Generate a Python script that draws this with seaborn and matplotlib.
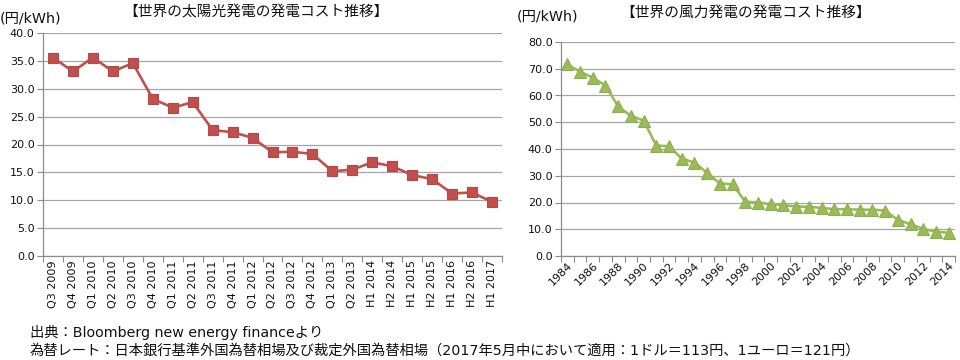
import matplotlib
matplotlib.use("Agg")
import matplotlib.pyplot as plt
import seaborn as sns
import pandas as pd

# ---- data ----
solar_periods = ["Q3 2009", "Q4 2009", "Q1 2010", "Q2 2010", "Q3 2010", "Q4 2010",
                 "Q1 2011", "Q2 2011", "Q3 2011", "Q4 2011", "Q1 2012", "Q2 2012",
                 "Q3 2012", "Q4 2012", "Q1 2013", "Q2 2013", "H1 2014", "H2 2014",
                 "H1 2015", "H2 2015", "H1 2016", "H2 2016", "H1 2017"]
solar_cost = [35.6, 33.1, 35.6, 33.1, 34.6, 28.2, 26.6, 27.6, 22.6, 22.2, 21.2, 18.6,
              18.7, 18.3, 15.2, 15.5, 16.8, 16.1, 14.5, 13.8, 11.2, 11.4, 9.7]

wind_years = [str(y) for y in range(1984, 2015)]
wind_cost = [71.6, 68.9, 66.7, 63.7, 55.9, 52.4, 50.6, 41.3, 41.0, 36.4, 34.9, 31.1,
             27.1, 26.8, 20.3, 20.0, 19.3, 19.0, 18.5, 18.4, 18.0, 17.5, 17.5, 17.3,
             17.3, 17.0, 13.5, 11.9, 10.1, 9.1, 8.7]
wind_label_years = wind_years[::2]

solar_yticks = [0, 5, 10, 15, 20, 25, 30, 35, 40]
wind_yticks = [0, 10, 20, 30, 40, 50, 60, 70, 80]

title_solar = "【世界の太陽光発電の発電コスト推移】"
title_wind = "【世界の風力発電の発電コスト推移】"
unit_label = "(円/kWh)"
note1 = "出典：Bloomberg new energy financeより"
note2 = "為替レート：日本銀行基準外国為替相場及び裁定外国為替相場（2017年5月中において適用：1ドル＝113円、1ユーロ＝121円）"

# ---- style ----
sns.set_theme(style="white")
FAM = ["DejaVu Sans", "Noto Sans CJK JP"]
plt.rcParams["font.family"] = FAM
plt.rcParams["axes.unicode_minus"] = False

RED = "#C0504D"
RED_EDGE = "#B54744"
GREEN = "#9BBB59"
GREEN_EDGE = "#8FAF4E"
GRID = "#A6A6A6"
SPINE = "#8C8C8C"
TXT = "#111111"
TICK_FS = 8.0

fig = plt.figure(figsize=(9.6, 3.6), dpi=100)
axL = fig.add_axes([43 / 960, 1 - 256 / 360, 459 / 960, 223 / 360])
axR = fig.add_axes([561 / 960, 1 - 256 / 360, 394 / 960, 214 / 360])

df_s = pd.DataFrame({"period": solar_periods, "cost": solar_cost})
df_w = pd.DataFrame({"year": wind_years, "cost": wind_cost})

sns.pointplot(data=df_s, x="period", y="cost", ax=axL, color=RED, errorbar=None,
              marker="s", markersize=7.5, linewidth=1.9, markeredgecolor=RED_EDGE,
              markeredgewidth=0.8)
sns.pointplot(data=df_w, x="year", y="cost", ax=axR, color=GREEN, errorbar=None,
              marker="^", markersize=8, linewidth=1.9, markeredgecolor=GREEN_EDGE,
              markeredgewidth=0.8)


def style_axis(ax, yticks, n):
    ax.set_ylim(yticks[0], yticks[-1])
    ax.set_yticks(yticks)
    ax.set_yticklabels([f"{v:.1f}" for v in yticks], fontsize=TICK_FS, color=TXT)
    ax.set_xlim(-0.5, n - 0.5)
    ax.yaxis.grid(True, color=GRID, linewidth=0.9)
    ax.xaxis.grid(False)
    ax.set_axisbelow(True)
    for s in ["top", "right"]:
        ax.spines[s].set_visible(False)
    for s in ["left", "bottom"]:
        ax.spines[s].set_color(SPINE)
        ax.spines[s].set_linewidth(0.9)
    ax.set_xticks([i - 0.5 for i in range(n + 1)], minor=True)
    ax.tick_params(axis="x", which="minor", length=4, width=0.8, color=SPINE,
                   direction="out", bottom=True)
    ax.tick_params(axis="x", which="major", length=0, pad=3)
    ax.tick_params(axis="y", which="major", length=4, width=0.8, color=SPINE,
                   direction="out", left=True, pad=2)
    ax.set_xlabel("")
    ax.set_ylabel("")


style_axis(axL, solar_yticks, len(solar_periods))
style_axis(axR, wind_yticks, len(wind_years))

axL.set_xticks(range(len(solar_periods)))
axL.set_xticklabels(solar_periods, rotation=90, fontsize=TICK_FS, color=TXT)

axR.set_xticks([wind_years.index(y) for y in wind_label_years])
axR.set_xticklabels(wind_label_years, rotation=45, ha="right",
                    rotation_mode="anchor", fontsize=TICK_FS, color=TXT)

fig.text(256 / 960, 1 - 12 / 360, title_solar, ha="center", va="center",
         fontsize=10.6, color=TXT, family=FAM)
fig.text(746 / 960, 1 - 12 / 360, title_wind, ha="center", va="center",
         fontsize=10.6, color=TXT, family=FAM)
fig.text(0 / 960, 1 - 18 / 360, unit_label, ha="left", va="center",
         fontsize=10.3, color=TXT, family=FAM)
fig.text(517 / 960, 1 - 17 / 360, unit_label, ha="left", va="center",
         fontsize=10.3, color=TXT, family=FAM)
fig.text(30 / 960, 1 - 332 / 360, note1, ha="left", va="center",
         fontsize=10.3, color=TXT, family=FAM)
fig.text(30 / 960, 1 - 351 / 360, note2, ha="left", va="center",
         fontsize=10.3, color=TXT, family=FAM)

fig.savefig("out.png", dpi=100)
